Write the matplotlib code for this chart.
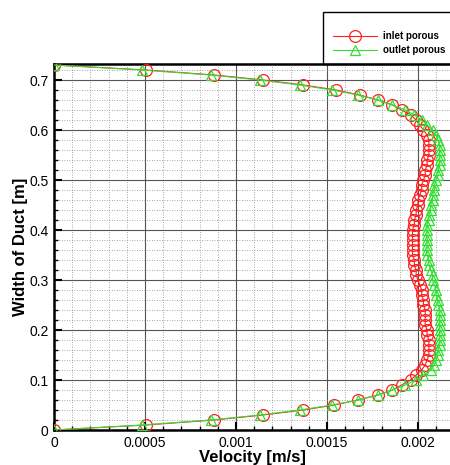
import numpy as np
import matplotlib
matplotlib.use('Agg')
import matplotlib.pyplot as plt
from matplotlib.ticker import MultipleLocator
from matplotlib.lines import Line2D
from matplotlib.patches import Rectangle

plt.rcParams['font.family'] = ['Liberation Sans', 'DejaVu Sans']

# width of duct positions [m]
width = [0.00, 0.01, 0.02, 0.03, 0.04, 0.05, 0.06, 0.07, 0.08, 0.09,
         0.10, 0.11, 0.12, 0.13, 0.14, 0.15, 0.16, 0.17, 0.18, 0.19,
         0.20, 0.21, 0.22, 0.23, 0.24, 0.25, 0.26, 0.27, 0.28, 0.29,
         0.30, 0.31, 0.32, 0.33, 0.34, 0.35, 0.36, 0.37, 0.38, 0.39,
         0.40, 0.41, 0.42, 0.43, 0.44, 0.45, 0.46, 0.47, 0.48, 0.49,
         0.50, 0.51, 0.52, 0.53, 0.54, 0.55, 0.56, 0.57, 0.58, 0.59,
         0.60, 0.61, 0.62, 0.63, 0.64, 0.65, 0.66, 0.67, 0.68, 0.69,
         0.70, 0.71, 0.72, 0.73]

# velocity [m/s], inlet porous
inlet = [0, 0.000505, 0.00088, 0.00115, 0.00137, 0.00154, 0.00167, 0.00178, 0.00186, 0.00191,
         0.00196, 0.00199, 0.00202, 0.00204, 0.00205, 0.00206, 0.00206, 0.00206, 0.00206, 0.00205,
         0.00205, 0.00204, 0.00204, 0.00204, 0.00204, 0.00203, 0.00203, 0.00202, 0.00202, 0.00201,
         0.00200, 0.00199, 0.00199, 0.00198, 0.00198, 0.00197, 0.00197, 0.00197, 0.00197, 0.00197,
         0.00197, 0.00198, 0.00198, 0.00199, 0.00199, 0.00200, 0.00200, 0.00201, 0.00202, 0.00202,
         0.00203, 0.00204, 0.00204, 0.00205, 0.00205, 0.00206, 0.00206, 0.00206, 0.00206, 0.00205,
         0.00203, 0.00201, 0.00199, 0.00196, 0.00191, 0.00186, 0.00178, 0.00168, 0.00155, 0.00137,
         0.00115, 0.00088, 0.000505, 0]

# velocity [m/s], outlet porous
outlet = [0, 0.000485, 0.00086, 0.00113, 0.00135, 0.00153, 0.00167, 0.00178, 0.00186, 0.00193,
          0.00199, 0.00203, 0.00207, 0.00209, 0.00210, 0.00211, 0.00211, 0.00212, 0.00212, 0.00212,
          0.00212, 0.00212, 0.00212, 0.00212, 0.00212, 0.00211, 0.00211, 0.00210, 0.00210, 0.00209,
          0.00208, 0.00208, 0.00207, 0.00206, 0.00206, 0.00205, 0.00205, 0.00205, 0.00205, 0.00205,
          0.00205, 0.00205, 0.00206, 0.00206, 0.00207, 0.00207, 0.00208, 0.00208, 0.00209, 0.00209,
          0.00210, 0.00211, 0.00211, 0.00212, 0.00212, 0.00212, 0.00212, 0.00212, 0.00211, 0.00210,
          0.00208, 0.00205, 0.00202, 0.00198, 0.00193, 0.00186, 0.00178, 0.00167, 0.00153, 0.00135,
          0.00113, 0.00086, 0.000485, 0]

red = '#ff2020'
green = '#33dd33'

fig = plt.figure(figsize=(4.5, 4.65), dpi=100)
ax = fig.add_axes([54 / 450, 1 - 430 / 465, 396 / 450, 366 / 465])

ax.plot(inlet, width, color=red, lw=0.8, marker='o', ms=8.5, mfc='none', mec=red, mew=0.9, zorder=3)
ax.plot(outlet, width, color=green, lw=0.8, marker='^', ms=7.5, mfc='none', mec=green, mew=0.9, zorder=4)

ax.set_xlim(0, 0.002176)
ax.set_ylim(0, 0.732)
ax.xaxis.set_minor_locator(MultipleLocator(0.0001))
ax.yaxis.set_minor_locator(MultipleLocator(0.02))
ax.set_xticks([0, 0.0005, 0.001, 0.0015, 0.002])
ax.set_xticklabels(['0', '0.0005', '0.001', '0.0015', '0.002'])
ax.set_yticks([0, 0.1, 0.2, 0.3, 0.4, 0.5, 0.6, 0.7])
ax.set_yticklabels(['0', '0.1', '0.2', '0.3', '0.4', '0.5', '0.6', '0.7'])

ax.grid(which='major', color='#555555', lw=0.8, ls='-')
ax.grid(which='minor', color='#888888', lw=0.6, ls=(0, (1, 2)))
ax.set_axisbelow(True)

ax.tick_params(which='major', direction='in', length=6, width=1.5, labelsize=10, pad=4)
ax.tick_params(which='minor', direction='in', length=3, width=1)
for s in ['left', 'bottom', 'top']:
    ax.spines[s].set_linewidth(1.8)
ax.spines['right'].set_visible(False)

ax.set_xlabel('Velocity [m/s]', fontsize=12, fontweight='bold', labelpad=0)
ax.set_ylabel('Width of Duct [m]', fontsize=12, fontweight='bold', labelpad=1)

# legend box in the upper right corner
fig.patches.append(Rectangle((323 / 450, 1 - 64 / 465), 140 / 450, 52 / 465,
                             transform=fig.transFigure, fill=False, ec='black', lw=1))
handles = [Line2D([], [], color=red, lw=0.8, marker='o', ms=8.5, mfc='none', mec=red, mew=0.9),
           Line2D([], [], color=green, lw=0.8, marker='^', ms=7.5, mfc='none', mec=green, mew=0.9)]
fig.legend(handles, ['inlet porous', 'outlet porous'], loc='upper left',
           bbox_to_anchor=(333 / 450, 1 - 31 / 465), frameon=False,
           prop={'size': 7, 'weight': 'bold'}, handlelength=4.5, handletextpad=0.6,
           labelspacing=0.45, borderaxespad=0, borderpad=0)

fig.savefig('out.png', dpi=100)
